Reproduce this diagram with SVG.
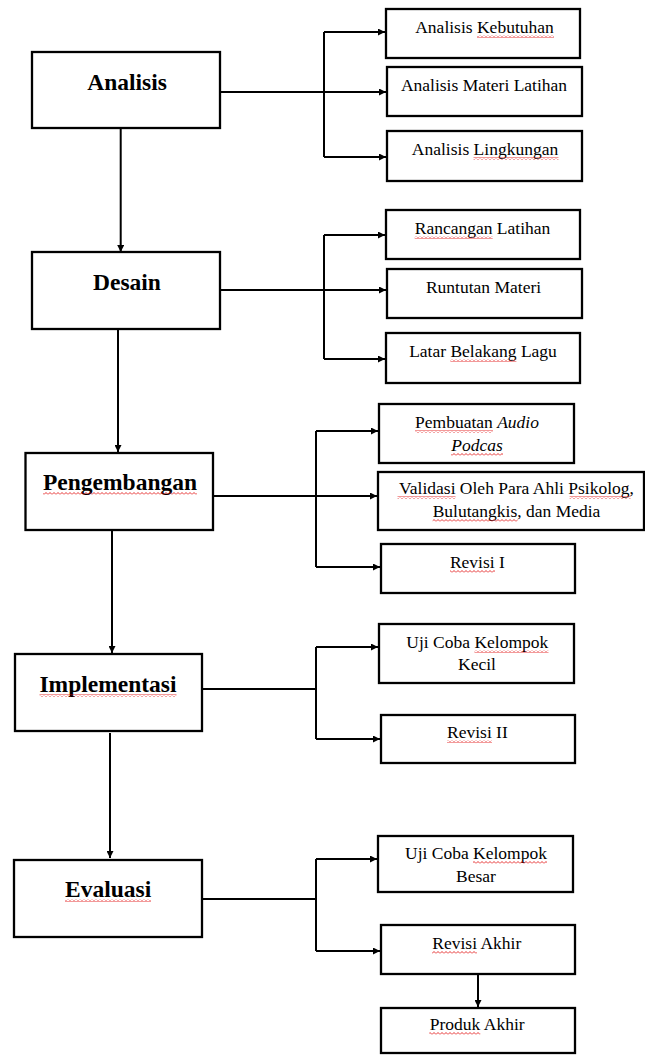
<svg xmlns="http://www.w3.org/2000/svg" width="645" height="1055" viewBox="0 0 645 1055">
<style>
.box{fill:#fff;stroke:#000;stroke-width:2.3}
.main{font-family:"Liberation Serif","Times New Roman",serif;font-weight:bold;font-size:23.5px;fill:#000;text-anchor:middle}
.sub{font-family:"Liberation Serif","Times New Roman",serif;font-size:17.5px;fill:#000;text-anchor:middle}
.it{font-style:italic}
.con{fill:none;stroke:#000;stroke-width:2}
.arr{marker-end:url(#ah)}
.sq{fill:url(#wave)}
</style>
<defs>
<marker id="ah" viewBox="0 0 10 10" refX="10" refY="5" markerWidth="7" markerHeight="7" markerUnits="userSpaceOnUse" orient="auto">
<path d="M0 0 L10 5 L0 10 Z" fill="#000"/>
</marker>
<pattern id="wave" patternUnits="userSpaceOnUse" width="4" height="3">
<path d="M0 2.5 L2 0.5 L4 2.5" fill="none" stroke="#e00000" stroke-width="0.8"/>
</pattern>
</defs>
<rect width="645" height="1055" fill="#fff"/>

<g id="connectors">
<path class="con arr" d="M120.7 128 V252"/>
<path class="con arr" d="M220 92 H386"/>
<path class="con" d="M324 32 V157"/>
<path class="con arr" d="M324 32 H385"/>
<path class="con arr" d="M324 157 H386"/>

<path class="con arr" d="M118 329 V452"/>
<path class="con arr" d="M220 290 H386"/>
<path class="con" d="M324 235 V359"/>
<path class="con arr" d="M324 235 H385"/>
<path class="con arr" d="M324 359 H385"/>

<path class="con arr" d="M112 530 V653"/>
<path class="con arr" d="M213 496 H377"/>
<path class="con" d="M316 431 V567"/>
<path class="con arr" d="M316 431 H378"/>
<path class="con arr" d="M316 567 H380"/>

<path class="con arr" d="M110 733 V858"/>
<path class="con" d="M202 689 H316"/>
<path class="con" d="M316 647 V739"/>
<path class="con arr" d="M316 647 H378"/>
<path class="con arr" d="M316 739 H380"/>

<path class="con" d="M202 899 H316"/>
<path class="con" d="M316 859 V951"/>
<path class="con arr" d="M316 859 H377"/>
<path class="con arr" d="M316 951 H380"/>
<path class="con arr" d="M478 974 V1007"/>
</g>

<g id="analisis">
<rect class="box" x="32" y="52" width="188" height="76"/>
<text class="main" x="127" y="90">Analisis</text>
</g>
<g id="analisis-kebutuhan">
<rect class="box" x="386" y="9" width="194" height="49"/>
<text class="sub" x="484.5" y="33">Analisis Kebutuhan</text>
<rect class="sq" x="477" y="35" width="77" height="3"/>
</g>
<g id="analisis-materi">
<rect class="box" x="387" y="67" width="195" height="49"/>
<text class="sub" x="484" y="91">Analisis Materi Latihan</text>
</g>
<g id="analisis-lingkungan">
<rect class="box" x="387" y="131" width="195" height="50"/>
<text class="sub" x="485" y="155">Analisis Lingkungan</text>
<rect class="sq" x="473.5" y="157" width="85" height="3"/>
</g>

<g id="desain">
<rect class="box" x="32" y="252" width="188" height="77"/>
<text class="main" x="127" y="290">Desain</text>
</g>
<g id="rancangan">
<rect class="box" x="386" y="210" width="194" height="49"/>
<text class="sub" x="482.5" y="234">Rancangan Latihan</text>
<rect class="sq" x="414.7" y="236" width="78" height="3"/>
</g>
<g id="runtutan">
<rect class="box" x="387" y="269" width="195" height="49"/>
<text class="sub" x="483.5" y="293">Runtutan Materi</text>
</g>
<g id="latar">
<rect class="box" x="386" y="333" width="194" height="50"/>
<text class="sub" x="483" y="357">Latar Belakang Lagu</text>
<rect class="sq" x="450.4" y="359" width="66" height="3"/>
</g>

<g id="pengembangan">
<rect class="box" x="25.5" y="453" width="187.5" height="77"/>
<text class="main" x="120" y="490">Pengembangan</text>
<rect class="sq" x="43" y="492" width="154" height="3"/>
</g>
<g id="pembuatan">
<rect class="box" x="379" y="404" width="195" height="59"/>
<text class="sub" x="477" y="428">Pembuatan <tspan class="it">Audio</tspan></text>
<text class="sub it" x="477" y="451">Podcas</text>
<rect class="sq" x="415" y="430" width="78" height="3"/>
<rect class="sq" x="451" y="453" width="52" height="3"/>
</g>
<g id="validasi">
<rect class="box" x="378" y="472" width="266" height="58"/>
<text class="sub" x="516.5" y="494">Validasi Oleh Para Ahli Psikolog,</text>
<text class="sub" x="516.5" y="517">Bulutangkis, dan Media</text>
<rect class="sq" x="397.5" y="496" width="58" height="3"/>
<rect class="sq" x="569.6" y="496" width="61" height="3"/>
<rect class="sq" x="432.6" y="519" width="85" height="3"/>
</g>
<g id="revisi-1">
<rect class="box" x="381" y="544" width="194" height="49"/>
<text class="sub" x="477.4" y="568">Revisi I</text>
<rect class="sq" x="450" y="570" width="45" height="3"/>
</g>

<g id="implementasi">
<rect class="box" x="15" y="654" width="187" height="77"/>
<text class="main" x="108" y="692">Implementasi</text>
<rect class="sq" x="39.5" y="694" width="137" height="3"/>
</g>
<g id="uji-kecil">
<rect class="box" x="379" y="624" width="195" height="59"/>
<text class="sub" x="477.3" y="648">Uji Coba Kelompok</text>
<text class="sub" x="477" y="670">Kecil</text>
<rect class="sq" x="474.5" y="650" width="74" height="3"/>
</g>
<g id="revisi-2">
<rect class="box" x="381" y="715" width="194" height="48"/>
<text class="sub" x="477.4" y="738">Revisi II</text>
<rect class="sq" x="447" y="740" width="45" height="3"/>
</g>

<g id="evaluasi">
<rect class="box" x="14" y="860" width="188" height="77"/>
<text class="main" x="108.2" y="897">Evaluasi</text>
<rect class="sq" x="65" y="899" width="86" height="3"/>
</g>
<g id="uji-besar">
<rect class="box" x="378" y="836" width="195" height="56"/>
<text class="sub" x="476" y="859">Uji Coba Kelompok</text>
<text class="sub" x="476" y="882">Besar</text>
<rect class="sq" x="473" y="861" width="74" height="3"/>
</g>
<g id="revisi-akhir">
<rect class="box" x="381" y="925" width="194" height="49"/>
<text class="sub" x="476.8" y="949">Revisi Akhir</text>
<rect class="sq" x="432" y="951" width="45" height="3"/>
</g>
<g id="produk-akhir">
<rect class="box" x="381" y="1008" width="194" height="45"/>
<text class="sub" x="477.2" y="1030">Produk Akhir</text>
<rect class="sq" x="429.3" y="1032" width="51" height="3"/>
</g>
</svg>
